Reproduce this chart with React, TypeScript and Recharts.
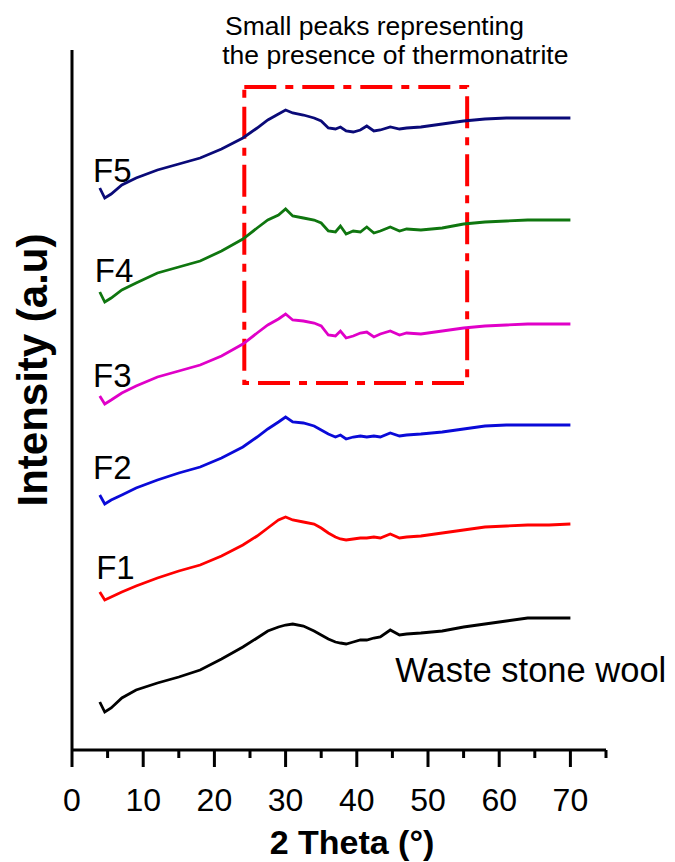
import React from 'react';
import { LineChart, Line, XAxis, YAxis, ReferenceArea, ReferenceDot } from 'recharts';

// 2θ positions (degrees)
const twoTheta = [3.9, 4.6, 5.5, 7, 9, 12, 15, 18, 21, 24, 26, 27.5, 29, 30, 31, 32.5, 34, 35, 36, 37, 37.7, 38.5, 39.5, 40.5, 41.4, 42.4, 43.3, 44.7, 46, 47, 49, 52, 55, 58, 61, 64, 67, 70];

// Intensity (a.u., stacked offsets)
const wasteStoneWool = [48, 38, 42, 52, 60, 67, 73, 80, 91, 103, 112, 119, 123, 125, 126, 124, 119, 115, 111, 108, 107, 106, 108, 110, 110, 112, 113, 120, 115, 116, 117, 119, 123, 126, 129, 132, 132, 132];
const f1 = [158, 150, 153, 158, 164, 172, 179, 185, 194, 205, 214, 222, 230, 233, 230, 228, 226, 222, 217, 213, 211, 210, 211, 212, 212, 213, 212, 216, 212, 213, 214, 217, 220, 223, 224, 225, 225, 226];
const f2 = [255, 246, 250, 255, 262, 270, 277, 283, 292, 303, 313, 321, 328, 333, 328, 327, 324, 320, 316, 313, 315, 311, 313, 314, 313, 314, 313, 317, 314, 315, 316, 318, 321, 324, 325, 325, 325, 325];
const f3 = [354, 346, 350, 357, 364, 373, 379, 385, 394, 406, 417, 425, 431, 436, 430, 429, 427, 424, 415, 414, 419, 412, 414, 417, 418, 413, 416, 419, 415, 417, 416, 419, 422, 424, 425, 426, 426, 426];
const f4 = [458, 448, 452, 460, 467, 477, 483, 489, 499, 511, 522, 530, 535, 541, 534, 532, 530, 527, 519, 518, 524, 516, 519, 518, 523, 517, 519, 523, 519, 521, 520, 522, 526, 528, 529, 530, 530, 530];
const f5 = [562, 552, 556, 565, 572, 580, 586, 592, 601, 612, 622, 630, 636, 640, 637, 635, 632, 629, 622, 621, 623, 619, 618, 620, 624, 619, 620, 623, 621, 622, 623, 626, 629, 631, 632, 632, 632, 632];

const xTicks = [0, 5, 10, 15, 20, 25, 30, 35, 40, 45, 50, 55, 60, 65, 70, 75];

// Highlight box [x1, x2, y1, y2]
const boxBounds = [24.2, 55.5, 367, 663];

// Series labels: [x, y, text]
const seriesLabels: [number, number, string][] = [
  [2.95, 568, 'F5'],
  [3.2, 468, 'F4'],
  [2.95, 363, 'F3'],
  [2.95, 271, 'F2'],
  [3.4, 171, 'F1'],
  [45.4, 68, 'Waste stone wool'],
];
const noteLines: [number, number, string][] = [
  [21.5, 715, 'Small peaks representing'],
  [21.1, 686, 'the presence of thermonatrite'],
];

const data = twoTheta.map((x, i) => ({
  x,
  w: wasteStoneWool[i],
  f1: f1[i],
  f2: f2[i],
  f3: f3[i],
  f4: f4[i],
  f5: f5[i],
}));

const FONT = 'Liberation Sans, Arial, sans-serif';

const XTick = (props: any) => {
  const { x, y, payload } = props;
  const v = payload.value;
  const major = v % 10 === 0 && v <= 70;
  return (
    <g>
      <line x1={x} x2={x} y1={y} y2={y + (major ? 17 : 8)} stroke="#000" strokeWidth={3} />
      {major && (
        <text x={x} y={y + 61} textAnchor="middle" fontSize={32} fontFamily={FONT} fill="#000">
          {v}
        </text>
      )}
    </g>
  );
};

const series = [
  { key: 'w', color: '#000000' },
  { key: 'f1', color: '#ff0000' },
  { key: 'f2', color: '#0a0ad8' },
  { key: 'f3', color: '#e000c8' },
  { key: 'f4', color: '#0f760f' },
  { key: 'f5', color: '#0a0a78' },
];

export default function App() {
  return (
    <LineChart width={667} height={854} data={data} margin={{ top: 42, right: 69, bottom: 0, left: 0 }}>
      <XAxis
        dataKey="x"
        type="number"
        domain={[0, 75]}
        ticks={xTicks}
        interval={0}
        tickSize={0}
        tickMargin={0}
        tickLine={false}
        tick={<XTick />}
        height={112}
        axisLine={{ stroke: '#000', strokeWidth: 3 }}
        label={(p: any) => (
          <text x={344} y={846} textAnchor="middle" fontSize={34} fontWeight="bold" fontFamily={FONT} fill="#000">
            2 Theta (°)
          </text>
        )}
      />
      <YAxis
        type="number"
        domain={[0, 700]}
        width={64}
        tick={false}
        tickLine={false}
        axisLine={{ stroke: '#000', strokeWidth: 3 }}
        label={(p: any) => (
          <text
            x={0}
            y={0}
            transform="translate(39, 362) rotate(-90)"
            textAnchor="middle"
            fontSize={42}
            fontWeight="bold"
            fontFamily={FONT}
            fill="#000"
          >
            Intensity (a.u)
          </text>
        )}
      />
      {series.map((s) => (
        <Line
          key={s.key}
          type="linear"
          dataKey={s.key}
          stroke={s.color}
          strokeWidth={2.8}
          dot={false}
          isAnimationActive={false}
        />
      ))}
      <ReferenceArea
        x1={boxBounds[0]}
        x2={boxBounds[1]}
        y1={boxBounds[2]}
        y2={boxBounds[3]}
        fill="none"
        fillOpacity={0}
        stroke="#ff0000"
        strokeWidth={4}
        strokeDasharray="32 9 8 9"
        ifOverflow="visible"
      />
      {seriesLabels.map(([x, y, t]) => (
        <ReferenceDot
          key={t}
          x={x}
          y={y}
          r={0}
          fill="none"
          stroke="none"
          ifOverflow="visible"
          label={(p: any) => (
            <text x={p.viewBox.x} y={p.viewBox.y} fontSize={t.length > 3 ? 34.5 : 33} fontFamily={FONT} fill="#000">
              {t}
            </text>
          )}
        />
      ))}
      {noteLines.map(([x, y, t]) => (
        <ReferenceDot
          key={t}
          x={x}
          y={y}
          r={0}
          fill="none"
          stroke="none"
          ifOverflow="visible"
          label={(p: any) => (
            <text x={p.viewBox.x} y={p.viewBox.y} fontSize={26.5} fontFamily={FONT} fill="#000">
              {t}
            </text>
          )}
        />
      ))}
    </LineChart>
  );
}
